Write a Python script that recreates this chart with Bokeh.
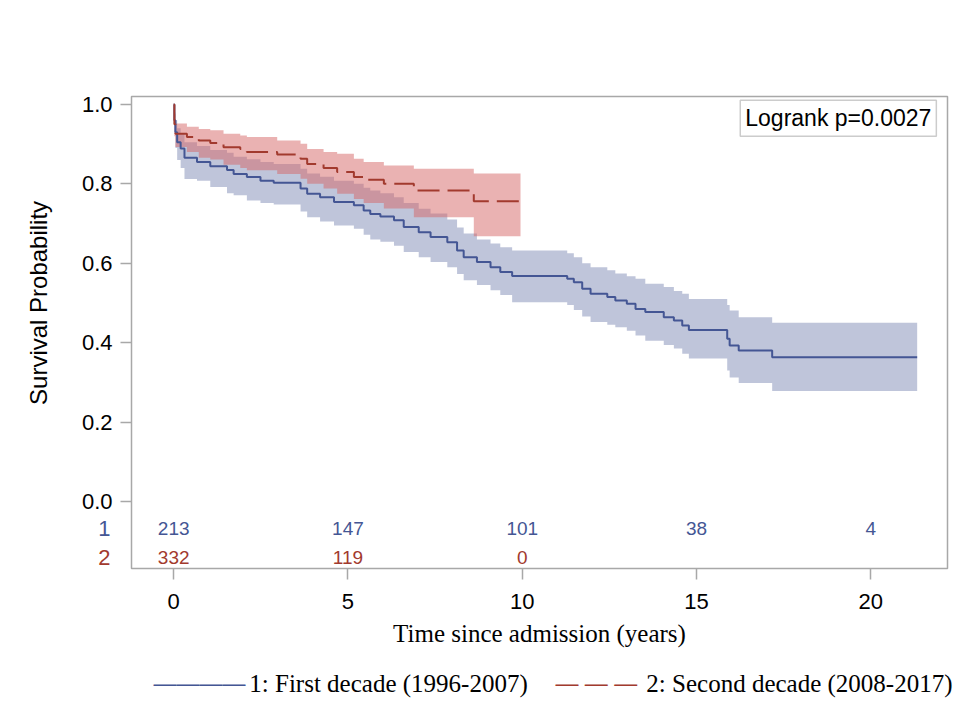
import math
from bokeh.plotting import figure
from bokeh.models import Range1d, FixedTicker, Label, ColumnDataSource
from bokeh.core.properties import value
from bokeh.embed import file_html
from bokeh.resources import INLINE

# ---------------- data ----------------
# Group 1: First decade (1996-2007)
g1_time = [0, 0.02, 0.05, 0.1, 0.2, 0.31, 0.67, 1.05, 1.53, 1.72, 2.1, 2.49, 2.87,
           3.64, 3.83, 4.2, 4.6, 5.17, 5.45, 5.64, 5.93, 6.32, 6.6, 7.03, 7.37, 7.85,
           8.13, 8.32, 8.7, 9.09, 9.37, 9.71, 11.29, 11.48, 11.72, 11.96, 12.44, 12.67,
           13.0, 13.25, 13.53, 14.06, 14.35, 14.59, 14.78, 15.88, 15.95, 16.21, 17.17]
g1_surv = [1.0, 0.96, 0.93, 0.905, 0.889, 0.866, 0.855, 0.844, 0.835, 0.825, 0.817, 0.808, 0.803,
           0.788, 0.775, 0.766, 0.754, 0.746, 0.733, 0.724, 0.718, 0.708, 0.691, 0.678, 0.666, 0.653,
           0.632, 0.615, 0.603, 0.590, 0.578, 0.568, 0.561, 0.552, 0.536, 0.523, 0.515, 0.506,
           0.498, 0.485, 0.477, 0.464, 0.456, 0.443, 0.432, 0.410, 0.393, 0.380, 0.363]
g1_lower = [1.0, 0.93, 0.89, 0.86, 0.84, 0.812, 0.808, 0.792, 0.776, 0.771, 0.758, 0.752, 0.748,
            0.730, 0.716, 0.705, 0.695, 0.687, 0.672, 0.660, 0.654, 0.644, 0.628, 0.615, 0.603, 0.590,
            0.573, 0.557, 0.545, 0.532, 0.520, 0.502, 0.495, 0.482, 0.466, 0.452, 0.445, 0.439,
            0.430, 0.418, 0.405, 0.394, 0.385, 0.372, 0.360, 0.330, 0.312, 0.298, 0.278]
g1_upper = [1.0, 0.98, 0.96, 0.94, 0.925, 0.905, 0.895, 0.885, 0.878, 0.868, 0.862, 0.855, 0.850,
            0.838, 0.826, 0.818, 0.808, 0.800, 0.790, 0.783, 0.776, 0.766, 0.752, 0.737, 0.725, 0.710,
            0.690, 0.675, 0.660, 0.650, 0.640, 0.632, 0.625, 0.615, 0.600, 0.590, 0.582, 0.574,
            0.567, 0.561, 0.548, 0.540, 0.530, 0.523, 0.510, 0.495, 0.481, 0.464, 0.450]
g1_end = 21.33

# Group 2: Second decade (2008-2017)
g2_time = [0, 0.02, 0.05, 0.38, 0.72, 1.05, 1.43, 1.91, 2.1, 2.97, 3.64, 3.83, 4.3,
           4.69, 5.17, 5.45, 6.03, 6.89, 8.61]
g2_surv = [1.0, 0.95, 0.926, 0.918, 0.909, 0.903, 0.892, 0.888, 0.880, 0.874, 0.863, 0.850, 0.840,
           0.830, 0.817, 0.810, 0.800, 0.783, 0.756]
g2_upper = [1.0, 0.975, 0.952, 0.944, 0.938, 0.935, 0.926, 0.922, 0.918, 0.909, 0.901, 0.888, 0.880,
            0.876, 0.863, 0.855, 0.846, 0.838, 0.826]
g2_lower = [1.0, 0.92, 0.893, 0.880, 0.866, 0.861, 0.848, 0.840, 0.834, 0.825, 0.813, 0.800, 0.788,
            0.775, 0.762, 0.752, 0.738, 0.716, 0.668]
g2_end = 9.95

# Numbers at risk
risk_times_g1 = [0, 5, 10, 15, 20]
risk_g1 = [213, 147, 101, 38, 4]
risk_times_g2 = [0, 5, 10]
risk_g2 = [332, 119, 0]
risk_row_labels = ["1", "2"]

x_ticks = [0, 5, 10, 15, 20]
y_ticks = [0.0, 0.2, 0.4, 0.6, 0.8, 1.0]
legend_labels = ["1: First decade (1996-2007)", "2: Second decade (2008-2017)"]
logrank_text = "Logrank p=0.0027"
x_title = "Time since admission (years)"
y_title = "Survival Probability"

# ---------------- styling / placement ----------------
BLUE = "#445694"
RED = "#A23A2E"
BAND_BLUE = "#445694"
BAND_RED = "#D56666"
GRAY = "#a8a8a8"
SANS = "Liberation Sans"
SERIF = "Liberation Serif"
DASH = "22 8"

ROW1_Y = -0.068
ROW2_Y = -0.141
LEG_Y = -0.458                       # legend row, below the axis title
LEG_KEY_X = [-0.582, 10.951]         # left end of each legend key
LEG_KEY_GLYPH = ["\u2014\u2014\u2014\u2014", "\u2014 \u2014 \u2014"]   # solid / dashed key
LEG_TEXT_X = [2.17, 13.56]


def extend(t, v, end):
    return list(t) + [end], list(v) + [v[-1]]


p = figure(frame_width=816, frame_height=472, output_backend="svg", toolbar_location=None,
           x_range=Range1d(-1.21, 22.2), y_range=Range1d(-0.169, 1.02),
           min_border_left=131, min_border_top=96, min_border_right=13, min_border_bottom=153)
p.grid.visible = False
p.outline_line_color = GRAY
p.outline_line_width = 1.5
p.background_fill_color = "white"
p.border_fill_color = "white"

# bands
x1, lo1 = extend(g1_time, g1_lower, g1_end)
_, hi1 = extend(g1_time, g1_upper, g1_end)
_, s1 = extend(g1_time, g1_surv, g1_end)
x2, lo2 = extend(g2_time, g2_lower, g2_end)
_, hi2 = extend(g2_time, g2_upper, g2_end)
_, s2 = extend(g2_time, g2_surv, g2_end)

p.varea_step(x=x1, y1=lo1, y2=hi1, step_mode="after", fill_color=BAND_BLUE, fill_alpha=0.34)
p.varea_step(x=x2, y1=lo2, y2=hi2, step_mode="after", fill_color=BAND_RED, fill_alpha=0.5)

p.step(x=x1, y=s1, mode="after", line_color=BLUE, line_width=2)
p.step(x=x2, y=s2, mode="after", line_color=RED, line_width=2, line_dash=DASH)

# numbers at risk
src1 = ColumnDataSource(dict(x=risk_times_g1, y=[ROW1_Y] * len(risk_g1), t=[str(n) for n in risk_g1]))
src2 = ColumnDataSource(dict(x=risk_times_g2, y=[ROW2_Y] * len(risk_g2), t=[str(n) for n in risk_g2]))
for src, col in ((src1, BLUE), (src2, RED)):
    p.text(x="x", y="y", text="t", source=src, text_color=col, text_font=value(SANS),
           text_font_size="19px", text_align="center", text_baseline="middle")

# texts outside the frame go in the side panels (not clipped there)
for lab, yy, col in ((risk_row_labels[0], ROW1_Y, BLUE), (risk_row_labels[1], ROW2_Y, RED)):
    p.add_layout(Label(x=-1.81, y=yy, text=lab, text_color=col, text_font=SANS,
                       text_font_size="22px", text_align="right", text_baseline="middle"), "left")

p.add_layout(Label(x=-3.88, y=0.5, text=y_title, angle=math.pi / 2, text_font=SANS,
                   text_font_size="24px", text_align="center", text_baseline="middle",
                   text_color="black"), "left")

# legend (key + label) below the axis
for kx, key, col, tx, lab in ((LEG_KEY_X[0], LEG_KEY_GLYPH[0], BLUE, LEG_TEXT_X[0], legend_labels[0]),
                              (LEG_KEY_X[1], LEG_KEY_GLYPH[1], RED, LEG_TEXT_X[1], legend_labels[1])):
    p.add_layout(Label(x=kx, y=LEG_Y, text=key, text_font=SANS, text_font_size="23px",
                       text_color=col, text_align="left", text_baseline="middle"), "below")
    p.add_layout(Label(x=tx, y=LEG_Y, text=lab, text_font=SERIF, text_font_size="25px",
                       text_color="black", text_align="left", text_baseline="middle"), "below")

# logrank box
p.add_layout(Label(x=21.88, y=0.965, text=logrank_text, text_font=SANS, text_font_size="23px",
                   text_align="right", text_baseline="middle", text_color="black",
                   border_line_color="#cccccc", border_line_width=1.5,
                   background_fill_color="white", padding=5))

# axes
p.xaxis.ticker = FixedTicker(ticks=x_ticks)
p.yaxis.ticker = FixedTicker(ticks=y_ticks)
p.yaxis.major_label_overrides = {v: f"{v:.1f}" for v in y_ticks}
for ax in (p.xaxis[0], p.yaxis[0]):
    ax.axis_line_color = None
    ax.major_tick_line_color = GRAY
    ax.major_tick_line_width = 1.5
    ax.major_tick_out = 11
    ax.major_tick_in = 0
    ax.minor_tick_line_color = None
    ax.major_label_text_font = SANS
    ax.major_label_text_font_size = "22px"
    ax.major_label_text_color = "black"
p.yaxis.major_label_standoff = 8
p.xaxis.major_label_standoff = 14
p.xaxis.axis_label = x_title
p.xaxis.axis_label_text_font = SERIF
p.xaxis.axis_label_text_font_size = "25px"
p.xaxis.axis_label_text_font_style = "normal"
p.xaxis.axis_label_text_color = "black"
p.xaxis.axis_label_standoff = 8

open("out.html", "w").write(file_html(p, INLINE))
